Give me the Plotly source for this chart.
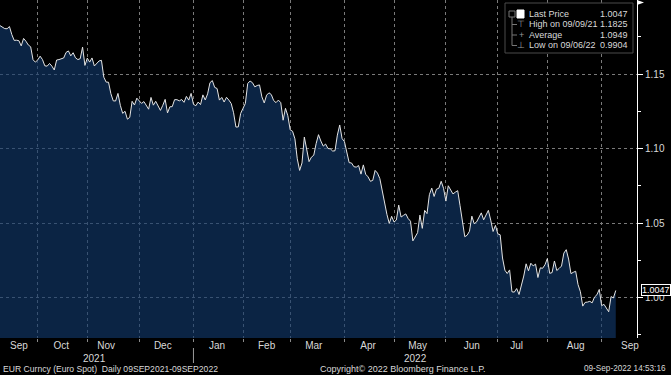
import numpy as np
import pandas as pd
import plotly.graph_objects as go

# ---- data (EUR/USD daily) ----
START = "2021-09-09"
LAST = "2022-09-09"
RANGE_END = "2022-09-22"

sep21 = [1.1825, 1.1813, 1.1805, 1.1804, 1.1819, 1.1765, 1.1726, 1.1727, 1.1724, 1.1689,
         1.1739, 1.1720, 1.1695, 1.1683, 1.1596, 1.1580]
oct21 = [1.1595, 1.1620, 1.1597, 1.1555, 1.1553, 1.1571, 1.1553, 1.1527, 1.1594, 1.1597,
         1.1601, 1.1608, 1.1645, 1.1655, 1.1622, 1.1643, 1.1609, 1.1597, 1.1603, 1.1681, 1.1558]
nov21 = [1.1607, 1.1580, 1.1608, 1.1554, 1.1568, 1.1588, 1.1592, 1.1479, 1.1446, 1.1445,
         1.1368, 1.1320, 1.1319, 1.1370, 1.1290, 1.1236, 1.1250, 1.1197, 1.1209, 1.1317,
         1.1292, 1.1338]
dec21 = [1.1320, 1.1303, 1.1315, 1.1285, 1.1264, 1.1343, 1.1291, 1.1317, 1.1284, 1.1256,
         1.1290, 1.1330, 1.1239, 1.1280, 1.1281, 1.1328, 1.1328, 1.1320, 1.1329, 1.1310,
         1.1350, 1.1325, 1.1370]
jan22 = [1.1297, 1.1287, 1.1312, 1.1295, 1.1360, 1.1326, 1.1367, 1.1442, 1.1456, 1.1410,
         1.1403, 1.1325, 1.1343, 1.1312, 1.1344, 1.1325, 1.1302, 1.1240, 1.1144, 1.1145, 1.1235]
feb22 = [1.1270, 1.1303, 1.1437, 1.1453, 1.1442, 1.1414, 1.1423, 1.1427, 1.1347, 1.1306,
         1.1358, 1.1374, 1.1362, 1.1322, 1.1308, 1.1325, 1.1308, 1.1190, 1.1270, 1.1220]
mar22 = [1.1125, 1.1116, 1.1065, 1.0931, 1.0853, 1.0903, 1.1077, 1.0986, 1.0912, 1.0942,
         1.0955, 1.1033, 1.1093, 1.1050, 1.1016, 1.1030, 1.1000, 1.0998, 1.0983, 1.0985,
         1.1090, 1.1158, 1.1067]
apr22 = [1.1046, 1.0970, 1.0905, 1.0903, 1.0878, 1.0875, 1.0886, 1.0828, 1.0890, 1.0827,
         1.0810, 1.0780, 1.0786, 1.0853, 1.0835, 1.0798, 1.0714, 1.0640, 1.0558, 1.0497, 1.0545]
may22 = [1.0507, 1.0520, 1.0620, 1.0540, 1.0551, 1.0561, 1.0530, 1.0512, 1.0380, 1.0412,
         1.0435, 1.0553, 1.0464, 1.0585, 1.0563, 1.0690, 1.0734, 1.0678, 1.0727, 1.0733,
         1.0780, 1.0733]
jun22 = [1.0647, 1.0750, 1.0718, 1.0695, 1.0707, 1.0717, 1.0616, 1.0518, 1.0408, 1.0418,
         1.0445, 1.0546, 1.0495, 1.0507, 1.0536, 1.0568, 1.0521, 1.0554, 1.0585, 1.0519,
         1.0443, 1.0484]
jul22 = [1.0427, 1.0421, 1.0265, 1.0183, 1.0161, 1.0185, 1.0038, 1.0036, 1.0060, 1.0020,
         1.0082, 1.0144, 1.0226, 1.0179, 1.0230, 1.0212, 1.0224, 1.0134, 1.0199, 1.0196, 1.0220]
aug22 = [1.0261, 1.0162, 1.0167, 1.0245, 1.0181, 1.0195, 1.0211, 1.0298, 1.0321, 1.0258,
         1.0160, 1.0169, 1.0176, 1.0087, 1.0039, 0.9942, 0.9967, 0.9969, 0.9974, 0.9964,
         1.0003, 1.0018, 1.0054]
sep22 = [0.9945, 0.9954, 0.9929, 0.9904, 1.0006, 0.9997, 1.0047]

month_labels = ["Sep", "Oct", "Nov", "Dec", "Jan", "Feb", "Mar", "Apr", "May", "Jun", "Jul", "Aug", "Sep"]
month_label_dates = ["2021-09-21", "2021-10-15", "2021-11-11", "2021-12-15", "2022-01-17",
                     "2022-02-15", "2022-03-15", "2022-04-15", "2022-05-16", "2022-06-16",
                     "2022-07-13", "2022-08-17", "2022-09-19"]
year_labels = ["2021", "2022"]
year_label_dates = ["2021-11-04", "2022-05-13"]

legend_names = ["Last Price", "High on 09/09/21", "Average", "Low on 09/06/22"]
legend_values = ["1.0047", "1.1825", "1.0949", "0.9904"]

# ---- build ----
values = sep21 + oct21 + nov21 + dec21 + jan22 + feb22 + mar22 + apr22 + may22 + jun22 + jul22 + aug22 + sep22
dates = pd.bdate_range(START, LAST)
assert len(dates) == len(values), (len(dates), len(values))

def bpos(d):
    return np.busday_count(np.datetime64(START, "D"), np.asarray(d, dtype="datetime64[D]"))

x = bpos(dates.values.astype("datetime64[D]"))
grid_x = bpos(pd.date_range("2021-10-01", "2022-09-01", freq="MS").values.astype("datetime64[D]"))
label_x = bpos(month_label_dates)
year_x = bpos(year_label_dates)
x_end = int(bpos(RANGE_END))

W, H = 637.0, 338.0
def px(v): return v / W
def py(v): return 1 - v / H

FONT = "Liberation Sans, Arial, sans-serif"
TXT = "#d9d9d9"

fig = go.Figure()
fig.add_trace(go.Scatter(
    x=x, y=values, mode="lines",
    line=dict(color="#e4e4e4", width=1),
    fill="tozeroy", fillcolor="rgba(18,58,110,0.62)",
    hoverinfo="skip", showlegend=False,
))

shapes = []
annotations = []

# legend box
shapes.append(dict(type="rect", xref="paper", yref="paper",
                   x0=px(505), x1=px(633), y0=py(53), y1=py(3),
                   line=dict(color="#4a4a4a", width=1), fillcolor="black", layer="above"))
rows_y = [14, 24.5, 35, 45.5]
shapes.append(dict(type="line", xref="paper", yref="paper", x0=px(512), x1=px(512),
                   y0=py(45.5), y1=py(17), line=dict(color="#777", width=1), layer="above"))
for ry in rows_y[1:]:
    shapes.append(dict(type="line", xref="paper", yref="paper", x0=px(512), x1=px(517),
                       y0=py(ry), y1=py(ry), line=dict(color="#777", width=1), layer="above"))
shapes.append(dict(type="rect", xref="paper", yref="paper", x0=px(509), x1=px(515),
                   y0=py(17), y1=py(11), line=dict(color="#777", width=1), fillcolor="black", layer="above"))
shapes.append(dict(type="rect", xref="paper", yref="paper", x0=px(517), x1=px(524),
                   y0=py(18), y1=py(10), line=dict(color="white", width=1), fillcolor="white", layer="above"))
icons = ["⊤", "+", "⊥"]
for ic, ry in zip(icons, rows_y[1:]):
    annotations.append(dict(xref="paper", yref="paper", x=px(521), y=py(ry), text=ic,
                            showarrow=False, xanchor="center", yanchor="middle",
                            font=dict(family=FONT, size=9, color="#999")))
for name, val, ry in zip(legend_names, legend_values, rows_y):
    annotations.append(dict(xref="paper", yref="paper", x=px(527), y=py(ry), text=name,
                            showarrow=False, xanchor="left", yanchor="middle",
                            font=dict(family=FONT, size=9, color=TXT)))
    annotations.append(dict(xref="paper", yref="paper", x=px(630), y=py(ry), text=val,
                            showarrow=False, xanchor="right", yanchor="middle",
                            font=dict(family=FONT, size=9, color=TXT)))

# last price tag on axis
annotations.append(dict(xref="paper", yref="y", x=1, y=values[-1], text=f"{values[-1]:.4f}",
                        showarrow=False, xanchor="left", yanchor="middle", xshift=4,
                        bgcolor="black", bordercolor="white", borderwidth=1, borderpad=0,
                        font=dict(family=FONT, size=9, color="white")))
shapes.append(dict(type="path", xref="paper", yref="paper",
                   path=f"M 1 1 L {px(644)} {py(2.5)} L 1 {py(5)} Z",
                   fillcolor="white", line=dict(color="white", width=0), layer="above"))

for yl, yx in zip(year_labels, year_x):
    annotations.append(dict(xref="x", yref="paper", x=int(yx), y=py(358), text=yl,
                            showarrow=False, xanchor="center", yanchor="middle",
                            font=dict(family=FONT, size=10, color=TXT)))
shapes.append(dict(type="line", xref="x", yref="paper", x0=int(grid_x[3]), x1=int(grid_x[3]),
                   y0=py(348), y1=py(363), line=dict(color="#9a9a9a", width=1)))

annotations += [
    dict(xref="paper", yref="paper", x=px(1), y=py(369), xanchor="left", yanchor="middle",
         text="EUR Curncy (Euro Spot)\u00a0\u00a0Daily 09SEP2021-09SEP2022", showarrow=False,
         font=dict(family=FONT, size=8.6, color=TXT)),
    dict(xref="paper", yref="paper", x=px(318), y=py(369), xanchor="left", yanchor="middle",
         text="Copyright© 2022 Bloomberg Finance L.P.", showarrow=False,
         font=dict(family=FONT, size=9, color=TXT)),
    dict(xref="paper", yref="paper", x=px(668), y=py(369), xanchor="right", yanchor="middle",
         text="09-Sep-2022 14:53:16", showarrow=False,
         font=dict(family=FONT, size=8.2, color=TXT)),
]

fig.update_layout(
    width=671, height=375,
    margin=dict(l=0, r=34, t=0, b=37),
    paper_bgcolor="black", plot_bgcolor="black",
    showlegend=False,
    font=dict(family=FONT, size=10, color=TXT),
    xaxis=dict(
        type="linear", range=[0, x_end],
        tickmode="array", tickvals=label_x.tolist(), ticktext=month_labels,
        ticks="", showgrid=False, zeroline=False, showline=False,
        tickfont=dict(family=FONT, size=10, color=TXT),
        minor=dict(tickmode="array", tickvals=grid_x.tolist(), ticks="outside", ticklen=3,
                   tickcolor="#8a8a8a", showgrid=True, gridcolor="#7a7a7a",
                   griddash="dot", gridwidth=1),
    ),
    yaxis=dict(
        side="right", range=[0.9728, 1.1997],
        tickmode="linear", tick0=1.0, dtick=0.05, tickformat=".2f",
        ticks="outside", ticklen=5, tickcolor="white",
        showline=True, linecolor="white", linewidth=1,
        showgrid=True, gridcolor="#7a7a7a", griddash="dot", gridwidth=1,
        zeroline=False,
        tickfont=dict(family=FONT, size=10, color=TXT),
        minor=dict(tickmode="linear", tick0=0.975, dtick=0.05, ticks="outside", ticklen=3,
                   tickcolor="white", showgrid=False),
    ),
    shapes=shapes, annotations=annotations,
)

fig.write_html("out.html", config={"displayModeBar": False},
               post_script="document.body.style.margin='0';document.body.style.overflow='hidden';")
